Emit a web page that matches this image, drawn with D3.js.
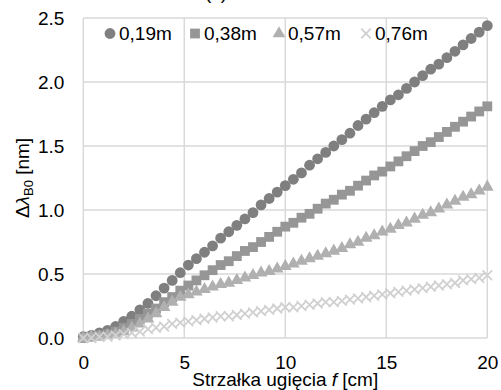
<!DOCTYPE html>
<html><head><meta charset="utf-8">
<script src="https://cdn.jsdelivr.net/npm/d3@7/dist/d3.min.js"></script>
<style>
body{margin:0;background:#fff;}
svg{display:block;font-family:"Liberation Sans",Arial,sans-serif;}
</style></head>
<body><svg id="c" width="501" height="390"></svg>
<script>
const fValues = [0,0.4,0.8,1.2,1.6,2,2.4,2.8,3.2,3.6,4,4.4,4.8,5.2,5.6,6,6.4,6.8,7.2,7.6,8,8.4,8.8,9.2,9.6,10,10.4,10.8,11.2,11.6,12,12.4,12.8,13.2,13.6,14,14.4,14.8,15.2,15.6,16,16.4,16.8,17.2,17.6,18,18.4,18.8,19.2,19.6,20];
const s019 = [0.01,0.02,0.04,0.06,0.09,0.13,0.17,0.22,0.27,0.33,0.39,0.45,0.51,0.57,0.62,0.67,0.72,0.78,0.83,0.88,0.93,0.98,1.04,1.09,1.14,1.19,1.24,1.29,1.35,1.40,1.45,1.50,1.55,1.60,1.66,1.71,1.76,1.81,1.86,1.90,1.95,2.00,2.05,2.10,2.14,2.19,2.24,2.29,2.34,2.39,2.44];
const s038 = [0.00,0.01,0.02,0.03,0.05,0.08,0.11,0.15,0.19,0.23,0.28,0.32,0.37,0.41,0.45,0.49,0.53,0.57,0.60,0.64,0.68,0.71,0.75,0.79,0.83,0.87,0.90,0.94,0.97,1.01,1.05,1.08,1.12,1.15,1.19,1.23,1.27,1.30,1.34,1.38,1.42,1.46,1.50,1.53,1.57,1.61,1.65,1.69,1.73,1.77,1.81];
const s057 = [0.00,0.01,0.01,0.02,0.03,0.05,0.08,0.11,0.15,0.19,0.24,0.28,0.32,0.34,0.36,0.38,0.40,0.42,0.43,0.45,0.47,0.49,0.51,0.52,0.54,0.56,0.58,0.60,0.62,0.64,0.66,0.68,0.70,0.73,0.75,0.78,0.80,0.83,0.85,0.88,0.90,0.93,0.96,0.98,1.01,1.04,1.07,1.10,1.12,1.15,1.18];
const s076 = [0.00,0.00,0.01,0.01,0.02,0.03,0.04,0.05,0.07,0.08,0.09,0.11,0.12,0.13,0.14,0.15,0.16,0.17,0.17,0.18,0.19,0.20,0.21,0.22,0.23,0.24,0.24,0.25,0.26,0.27,0.28,0.28,0.29,0.30,0.31,0.32,0.33,0.34,0.35,0.36,0.37,0.38,0.39,0.40,0.41,0.42,0.43,0.45,0.46,0.47,0.49];
const seriesNames = ["0,19m","0,38m","0,57m","0,76m"];
const seriesColors = ["#7f7f7f","#969696","#b0b0b0","#d0d0d0"];
const seriesSymbols = ["circle","square","triangle","cross"];
const xTicks = [0,5,10,15,20];
const yTicks = [0,0.5,1,1.5,2,2.5];

const seriesData = [s019,s038,s057,s076];
const svg = d3.select("#c");
const L=83.3, R=487.3, T=18, B=338;
const x = d3.scaleLinear().domain([0,20]).range([L,R]);
const y = d3.scaleLinear().domain([0,2.5]).range([B,T]);
const FS = 19;

// grid
const grid = svg.append("g");
grid.selectAll("line.v").data(xTicks).join("line")
  .attr("x1",d=>x(d)).attr("x2",d=>x(d)).attr("y1",T).attr("y2",B)
  .attr("stroke","#d9d9d9").attr("stroke-width",1.5);
grid.selectAll("line.h").data(yTicks).join("line")
  .attr("x1",L).attr("x2",R).attr("y1",d=>y(d)).attr("y2",d=>y(d))
  .attr("stroke","#d9d9d9").attr("stroke-width",1.5);

// axes
const xa = svg.append("g").attr("transform",`translate(0,${B})`)
  .call(d3.axisBottom(x).tickValues(xTicks).tickSize(0).tickPadding(18).tickFormat(d3.format("d")));
const ya = svg.append("g").attr("transform",`translate(${L},0)`)
  .call(d3.axisLeft(y).tickValues(yTicks).tickSize(0).tickPadding(19).tickFormat(d3.format(".1f")));
[xa,ya].forEach(a=>{a.select(".domain").remove();a.selectAll("text").attr("font-size",FS).attr("fill","#000").attr("font-family","Liberation Sans, Arial, sans-serif");});

// markers
function drawMarker(g, type, color){
  if(type==="circle") g.append("circle").attr("r",5.4).attr("fill",color);
  else if(type==="square") g.append("rect").attr("x",-4.9).attr("y",-4.9).attr("width",9.8).attr("height",9.8).attr("fill",color);
  else if(type==="triangle") g.append("path").attr("d",d3.symbol(d3.symbolTriangle,70)()).attr("fill",color);
  else g.append("path").attr("d","M-4.8,-4.8L4.8,4.8M-4.8,4.8L4.8,-4.8").attr("stroke",color).attr("stroke-width",1.8).attr("fill","none");
}
seriesData.forEach((vals,i)=>{
  const g = svg.append("g");
  vals.forEach((v,j)=>{
    const m = g.append("g").attr("transform",`translate(${x(fValues[j])},${y(v)})`);
    drawMarker(m, seriesSymbols[i], seriesColors[i]);
  });
});

// legend
const legX = [110,195,279,366];
seriesNames.forEach((n,i)=>{
  const m = svg.append("g").attr("transform",`translate(${legX[i]},33.5)`);
  drawMarker(m, seriesSymbols[i], seriesColors[i]);
  svg.append("text").attr("x",legX[i]+9).attr("y",39.5).attr("font-size",FS).text(n);
});

// title (cut off at top)
svg.append("text").attr("x",216).attr("y",-1).attr("text-anchor","middle").attr("font-size",FS).text("(c)");

// axis titles
const xl = svg.append("text").attr("x",(L+R)/2).attr("y",386).attr("text-anchor","middle").attr("font-size",FS);
xl.append("tspan").text("Strzałka ugięcia ");
xl.append("tspan").attr("font-style","italic").text("f");
xl.append("tspan").text(" [cm]");

const yl = svg.append("text").attr("transform",`translate(29,${(T+B)/2}) rotate(-90)`).attr("text-anchor","middle").attr("font-size",FS);
yl.append("tspan").text("Δ");
yl.append("tspan").attr("font-style","italic").text("λ");
yl.append("tspan").attr("font-size",13).attr("dy",4).text("B0");
yl.append("tspan").attr("dy",-4).text(" [nm]");
</script></body></html>
